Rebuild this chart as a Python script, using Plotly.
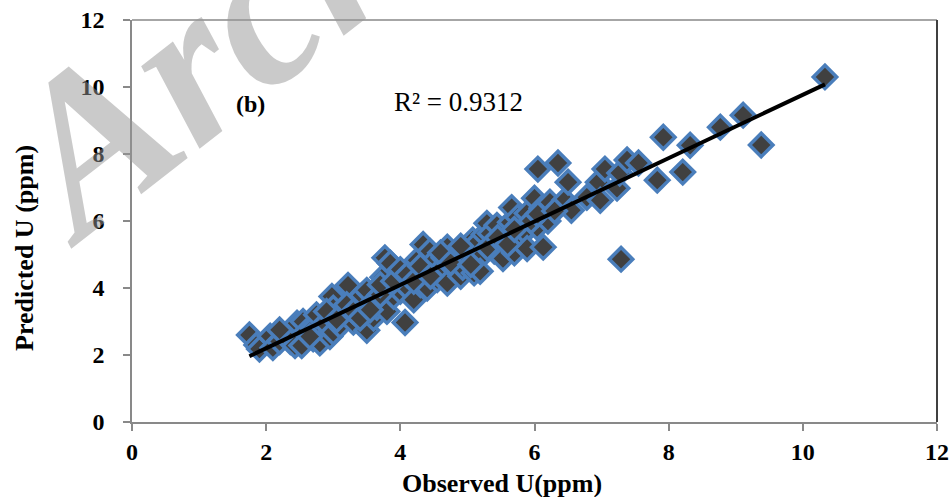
import numpy as np
import plotly.graph_objects as go

observed = [1.75, 1.86, 1.90, 2.06, 2.10, 2.20, 2.31, 2.36, 2.43, 2.46, 2.53, 2.55, 2.60, 2.70, 2.70,
            2.75, 2.80, 2.88, 2.95, 2.98, 3.00, 3.00, 3.10, 3.15, 3.22, 3.25, 3.30, 3.35, 3.43, 3.47,
            3.50, 3.50, 3.60, 3.60, 3.65, 3.74, 3.77, 3.80, 3.85, 3.90, 3.97, 4.00, 4.07, 4.10, 4.15,
            4.20, 4.25, 4.30, 4.34, 4.40, 4.40, 4.44, 4.50, 4.55, 4.59, 4.65, 4.70, 4.70, 4.80, 4.84,
            4.90, 4.93, 4.99, 5.00, 5.08, 5.10, 5.14, 5.19, 5.19, 5.25, 5.29, 5.34, 5.40, 5.44, 5.52,
            5.53, 5.60, 5.64, 5.66, 5.70, 5.75, 5.78, 5.85, 5.89, 5.89, 6.00, 6.04, 6.05, 6.11, 6.13,
            6.20, 6.23, 6.35, 6.45, 6.50, 6.55, 6.78, 6.95, 6.98, 7.05, 7.23, 7.27, 7.29, 7.38, 7.55,
            7.83, 7.92, 8.21, 8.32, 8.77, 9.11, 9.38, 10.33,
            2.20, 2.65, 2.90, 3.05, 3.20, 3.30, 3.40, 3.55, 3.70, 3.70, 3.90, 4.00, 4.10, 4.20, 4.30,
            4.45, 4.60, 4.75, 4.90, 5.05, 5.30, 5.45, 5.60, 5.70, 5.95, 6.05, 6.30]
predicted = [2.60, 2.30, 2.18, 2.56, 2.22, 2.40, 2.60, 2.40, 2.28, 2.95, 2.28, 3.00, 2.70, 2.48, 2.80,
             3.20, 2.36, 2.95, 2.55, 3.75, 2.68, 3.40, 2.88, 3.30, 4.08, 3.12, 2.98, 3.60, 3.78, 3.15,
             2.74, 3.93, 3.10, 3.60, 3.42, 4.32, 4.90, 3.30, 4.74, 3.75, 4.32, 3.90, 2.97, 4.02, 4.60,
             3.65, 4.83, 4.10, 5.30, 4.53, 4.00, 5.10, 4.80, 4.25, 4.53, 4.90, 5.22, 4.15, 4.60, 5.03,
             4.35, 4.62, 5.13, 4.90, 5.43, 4.45, 5.34, 4.92, 4.50, 5.60, 5.93, 5.63, 5.10, 5.87, 5.28,
             4.88, 5.50, 5.96, 6.40, 5.05, 6.11, 5.52, 5.70, 6.23, 5.18, 6.68, 5.81, 7.55, 6.38, 5.22,
             6.00, 6.56, 7.73, 6.62, 7.16, 6.32, 6.71, 7.16, 6.62, 7.55, 6.98, 7.43, 4.86, 7.82, 7.73,
             7.22, 8.50, 7.46, 8.26, 8.80, 9.16, 8.27, 10.30,
             2.75, 2.55, 3.30, 3.05, 3.50, 3.30, 3.10, 3.35, 3.80, 4.10, 4.20, 4.55, 4.40, 4.20, 4.65,
             4.35, 5.05, 4.75, 5.25, 4.70, 5.20, 5.50, 5.30, 5.75, 6.00, 6.20, 6.30]

x_ticks = [0, 2, 4, 6, 8, 10, 12]
y_ticks = [0, 2, 4, 6, 8, 10, 12]
r2_label = "R² = 0.9312"
panel_label = "(b)"
x_title = "Observed U(ppm)"
y_title = "Predicted U (ppm)"
watermark = "Archive of SID"

obs = np.array(observed)
pred = np.array(predicted)
slope, intercept = np.polyfit(obs, pred, 1)
fit_x = np.array([obs.min(), obs.max()])
fit_y = slope * fit_x + intercept

font_family = "Liberation Serif, Times New Roman, serif"

fig = go.Figure()
fig.add_trace(go.Scatter(
    x=observed, y=predicted, mode="markers",
    marker=dict(symbol="diamond", size=18, color="#404040",
                line=dict(color="#4a7ebb", width=3.5)),
    showlegend=False, hoverinfo="skip"))
fig.add_trace(go.Scatter(
    x=fit_x, y=fit_y, mode="lines",
    line=dict(color="black", width=4),
    showlegend=False, hoverinfo="skip"))

axis_common = dict(
    showgrid=False, zeroline=False, showline=True, linecolor="#898989", linewidth=1.5,
    ticks="outside", ticklen=7, tickcolor="#898989", tickwidth=1.5,
    tickfont=dict(family=font_family, size=24, color="black", weight="bold"),
    automargin=False,
)

fig.update_xaxes(range=[0, 12], tickvals=x_ticks, ticktext=[str(v) for v in x_ticks],
                 **axis_common)
fig.update_yaxes(range=[0, 12], tickvals=y_ticks, ticktext=[str(v) for v in y_ticks],
                 ticklabelstandoff=14, **axis_common)

fig.add_shape(type="line", xref="paper", yref="paper", x0=0, x1=1, y0=1, y1=1,
              line=dict(color="#898989", width=1.5))
fig.add_shape(type="line", xref="paper", yref="paper", x0=1, x1=1, y0=0, y1=1,
              line=dict(color="#404040", width=2))

# watermark (semi-transparent so the tick labels beneath stay visible)
fig.add_annotation(xref="paper", yref="paper", x=(569 - 132) / 805, y=(422 + 234) / 402,
                   text="<i>" + watermark + "</i>", showarrow=False, textangle=-38,
                   xanchor="center", yanchor="middle",
                   font=dict(family=font_family, size=220, color="rgba(150,150,150,0.5)",
                             weight="bold"))

# axis titles
fig.add_annotation(xref="paper", yref="paper", x=(502 - 132) / 805, y=-61 / 402,
                   text=x_title, showarrow=False, xanchor="center", yanchor="middle",
                   font=dict(family=font_family, size=26, color="black", weight="bold"))
fig.add_annotation(xref="paper", yref="paper", x=(24 - 132) / 805, y=(422 - 248) / 402,
                   text=y_title, showarrow=False, textangle=-90, xanchor="center", yanchor="middle",
                   font=dict(family=font_family, size=26, color="black", weight="bold"))

fig.add_annotation(x=1.76, y=9.5, text=panel_label, showarrow=False,
                   font=dict(family=font_family, size=24, color="black", weight="bold"))
fig.add_annotation(x=4.86, y=9.55, text=r2_label, showarrow=False,
                   font=dict(family=font_family, size=27, color="black"))

fig.update_layout(
    width=952, height=497,
    margin=dict(l=132, r=15, t=20, b=75),
    paper_bgcolor="white", plot_bgcolor="white",
)

fig.write_html("out.html", config={"displayModeBar": False},
               post_script="document.body.style.margin='0';document.body.style.padding='0';")
